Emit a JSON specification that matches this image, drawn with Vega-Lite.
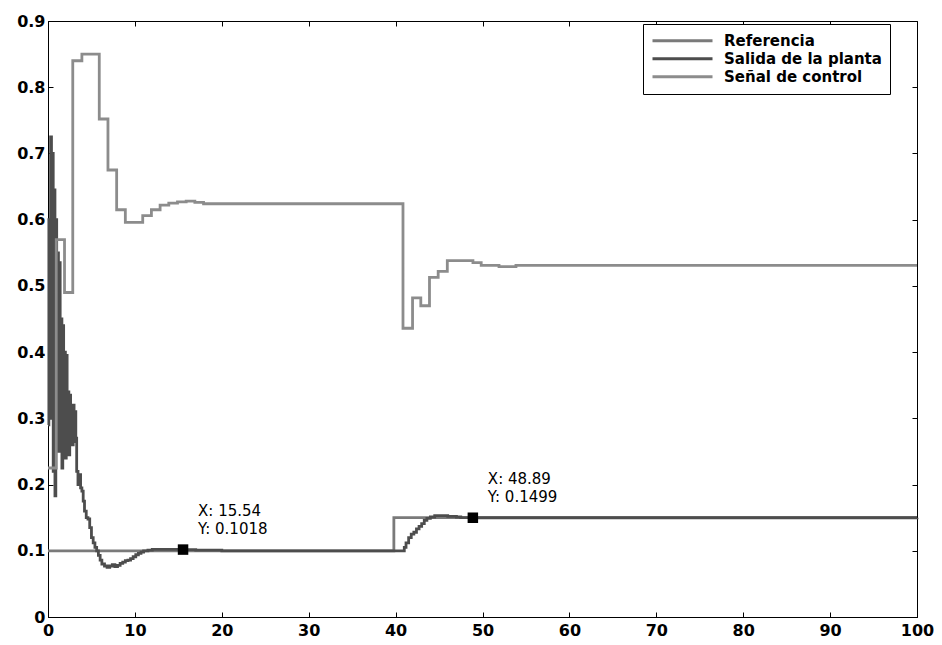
{
  "$schema": "https://vega.github.io/schema/vega-lite/v6.json",
  "width": 869,
  "height": 596,
  "autosize": {"type": "none"},
  "padding": {"left": 48, "top": 21, "right": 25, "bottom": 28},
  "background": "#ffffff",
  "config": {
    "view": {"stroke": "#000000", "strokeWidth": 1},
    "font": "DejaVu Sans"
  },
  "datasets": {
    "lines": [
      {"serie": "Referencia", "t": 0, "v": 0.1},
      {"serie": "Referencia", "t": 39.8, "v": 0.15},
      {"serie": "Referencia", "t": 100, "v": 0.15},

      {"serie": "Salida de la planta", "t": 0.0, "v": 0.29},
      {"serie": "Salida de la planta", "t": 0.1, "v": 0.6},
      {"serie": "Salida de la planta", "t": 0.2, "v": 0.32},
      {"serie": "Salida de la planta", "t": 0.3, "v": 0.725},
      {"serie": "Salida de la planta", "t": 0.4, "v": 0.3},
      {"serie": "Salida de la planta", "t": 0.5, "v": 0.7},
      {"serie": "Salida de la planta", "t": 0.6, "v": 0.22},
      {"serie": "Salida de la planta", "t": 0.7, "v": 0.645},
      {"serie": "Salida de la planta", "t": 0.8, "v": 0.183},
      {"serie": "Salida de la planta", "t": 0.9, "v": 0.6},
      {"serie": "Salida de la planta", "t": 1.0, "v": 0.33},
      {"serie": "Salida de la planta", "t": 1.1, "v": 0.55},
      {"serie": "Salida de la planta", "t": 1.2, "v": 0.25},
      {"serie": "Salida de la planta", "t": 1.3, "v": 0.535},
      {"serie": "Salida de la planta", "t": 1.4, "v": 0.3},
      {"serie": "Salida de la planta", "t": 1.5, "v": 0.45},
      {"serie": "Salida de la planta", "t": 1.6, "v": 0.225},
      {"serie": "Salida de la planta", "t": 1.7, "v": 0.44},
      {"serie": "Salida de la planta", "t": 1.8, "v": 0.27},
      {"serie": "Salida de la planta", "t": 1.9, "v": 0.4},
      {"serie": "Salida de la planta", "t": 2.0, "v": 0.24},
      {"serie": "Salida de la planta", "t": 2.1, "v": 0.395},
      {"serie": "Salida de la planta", "t": 2.2, "v": 0.27},
      {"serie": "Salida de la planta", "t": 2.3, "v": 0.34},
      {"serie": "Salida de la planta", "t": 2.4, "v": 0.245},
      {"serie": "Salida de la planta", "t": 2.5, "v": 0.335},
      {"serie": "Salida de la planta", "t": 2.6, "v": 0.26},
      {"serie": "Salida de la planta", "t": 2.7, "v": 0.3},
      {"serie": "Salida de la planta", "t": 2.8, "v": 0.26},
      {"serie": "Salida de la planta", "t": 2.9, "v": 0.32},
      {"serie": "Salida de la planta", "t": 3.0, "v": 0.265},
      {"serie": "Salida de la planta", "t": 3.1, "v": 0.31},
      {"serie": "Salida de la planta", "t": 3.2, "v": 0.27},
      {"serie": "Salida de la planta", "t": 3.3, "v": 0.22},
      {"serie": "Salida de la planta", "t": 3.45, "v": 0.2},
      {"serie": "Salida de la planta", "t": 3.6, "v": 0.215},
      {"serie": "Salida de la planta", "t": 3.75, "v": 0.195},
      {"serie": "Salida de la planta", "t": 3.9, "v": 0.19},
      {"serie": "Salida de la planta", "t": 4.05, "v": 0.175},
      {"serie": "Salida de la planta", "t": 4.2, "v": 0.16},
      {"serie": "Salida de la planta", "t": 4.4, "v": 0.15},
      {"serie": "Salida de la planta", "t": 4.6, "v": 0.148},
      {"serie": "Salida de la planta", "t": 4.8, "v": 0.135},
      {"serie": "Salida de la planta", "t": 5.0, "v": 0.12},
      {"serie": "Salida de la planta", "t": 5.2, "v": 0.112},
      {"serie": "Salida de la planta", "t": 5.4, "v": 0.105},
      {"serie": "Salida de la planta", "t": 5.6, "v": 0.1},
      {"serie": "Salida de la planta", "t": 5.8, "v": 0.093},
      {"serie": "Salida de la planta", "t": 6.0, "v": 0.086},
      {"serie": "Salida de la planta", "t": 6.2, "v": 0.08},
      {"serie": "Salida de la planta", "t": 6.5, "v": 0.077},
      {"serie": "Salida de la planta", "t": 6.8, "v": 0.075},
      {"serie": "Salida de la planta", "t": 7.1, "v": 0.077},
      {"serie": "Salida de la planta", "t": 7.4, "v": 0.079},
      {"serie": "Salida de la planta", "t": 7.7, "v": 0.076},
      {"serie": "Salida de la planta", "t": 8.0, "v": 0.078},
      {"serie": "Salida de la planta", "t": 8.3, "v": 0.081},
      {"serie": "Salida de la planta", "t": 8.6, "v": 0.083},
      {"serie": "Salida de la planta", "t": 8.9, "v": 0.085},
      {"serie": "Salida de la planta", "t": 9.2, "v": 0.086},
      {"serie": "Salida de la planta", "t": 9.5, "v": 0.088},
      {"serie": "Salida de la planta", "t": 9.8, "v": 0.091},
      {"serie": "Salida de la planta", "t": 10.1, "v": 0.094},
      {"serie": "Salida de la planta", "t": 10.4, "v": 0.096},
      {"serie": "Salida de la planta", "t": 10.7, "v": 0.098},
      {"serie": "Salida de la planta", "t": 11.0, "v": 0.1},
      {"serie": "Salida de la planta", "t": 11.5, "v": 0.101},
      {"serie": "Salida de la planta", "t": 12.0, "v": 0.102},
      {"serie": "Salida de la planta", "t": 14.0, "v": 0.102},
      {"serie": "Salida de la planta", "t": 15.54, "v": 0.1018},
      {"serie": "Salida de la planta", "t": 17.0, "v": 0.101},
      {"serie": "Salida de la planta", "t": 20.0, "v": 0.1},
      {"serie": "Salida de la planta", "t": 40.8, "v": 0.1},
      {"serie": "Salida de la planta", "t": 41.0, "v": 0.105},
      {"serie": "Salida de la planta", "t": 41.2, "v": 0.112},
      {"serie": "Salida de la planta", "t": 41.5, "v": 0.12},
      {"serie": "Salida de la planta", "t": 41.8, "v": 0.125},
      {"serie": "Salida de la planta", "t": 42.1, "v": 0.128},
      {"serie": "Salida de la planta", "t": 42.4, "v": 0.133},
      {"serie": "Salida de la planta", "t": 42.7, "v": 0.137},
      {"serie": "Salida de la planta", "t": 43.0, "v": 0.141},
      {"serie": "Salida de la planta", "t": 43.3, "v": 0.146},
      {"serie": "Salida de la planta", "t": 43.6, "v": 0.149},
      {"serie": "Salida de la planta", "t": 44.0, "v": 0.151},
      {"serie": "Salida de la planta", "t": 44.5, "v": 0.153},
      {"serie": "Salida de la planta", "t": 45.0, "v": 0.153},
      {"serie": "Salida de la planta", "t": 45.5, "v": 0.153},
      {"serie": "Salida de la planta", "t": 46.0, "v": 0.152},
      {"serie": "Salida de la planta", "t": 46.5, "v": 0.152},
      {"serie": "Salida de la planta", "t": 47.0, "v": 0.151},
      {"serie": "Salida de la planta", "t": 47.5, "v": 0.15},
      {"serie": "Salida de la planta", "t": 48.89, "v": 0.1499},
      {"serie": "Salida de la planta", "t": 100, "v": 0.15},

      {"serie": "Señal de control", "t": 0, "v": 0.225},
      {"serie": "Señal de control", "t": 0.95, "v": 0.57},
      {"serie": "Señal de control", "t": 1.9, "v": 0.49},
      {"serie": "Señal de control", "t": 2.85, "v": 0.84},
      {"serie": "Señal de control", "t": 3.9, "v": 0.85},
      {"serie": "Señal de control", "t": 5.9, "v": 0.752},
      {"serie": "Señal de control", "t": 6.9, "v": 0.675},
      {"serie": "Señal de control", "t": 7.9, "v": 0.615},
      {"serie": "Señal de control", "t": 8.9, "v": 0.596},
      {"serie": "Señal de control", "t": 10.9, "v": 0.606},
      {"serie": "Señal de control", "t": 11.9, "v": 0.615},
      {"serie": "Señal de control", "t": 12.9, "v": 0.622},
      {"serie": "Señal de control", "t": 13.9, "v": 0.625},
      {"serie": "Señal de control", "t": 14.9, "v": 0.627},
      {"serie": "Señal de control", "t": 15.9, "v": 0.628},
      {"serie": "Señal de control", "t": 16.9, "v": 0.626},
      {"serie": "Señal de control", "t": 17.9, "v": 0.624},
      {"serie": "Señal de control", "t": 40.85, "v": 0.436},
      {"serie": "Señal de control", "t": 41.95, "v": 0.482},
      {"serie": "Señal de control", "t": 42.9, "v": 0.47},
      {"serie": "Señal de control", "t": 43.9, "v": 0.513},
      {"serie": "Señal de control", "t": 44.9, "v": 0.522},
      {"serie": "Señal de control", "t": 45.95, "v": 0.538},
      {"serie": "Señal de control", "t": 48.9, "v": 0.535},
      {"serie": "Señal de control", "t": 49.85, "v": 0.531},
      {"serie": "Señal de control", "t": 51.9, "v": 0.529},
      {"serie": "Señal de control", "t": 53.85, "v": 0.531},
      {"serie": "Señal de control", "t": 100, "v": 0.531}
    ],
    "tips": [
      {"t": 15.54, "v": 0.1018, "lx": "X: 15.54", "ly": "Y: 0.1018"},
      {"t": 48.89, "v": 0.1499, "lx": "X: 48.89", "ly": "Y: 0.1499"}
    ]
  },
  "resolve": {"axis": {"x": "independent", "y": "independent"}},
  "layer": [
    {
      "data": {"name": "lines"},
      "mark": {"type": "line", "interpolate": "step-after", "strokeWidth": 2.8},
      "encoding": {
        "x": {
          "field": "t", "type": "quantitative",
          "scale": {"domain": [0, 100], "nice": false, "zero": false},
          "axis": {
            "orient": "bottom", "title": null, "grid": false,
            "values": [0, 10, 20, 30, 40, 50, 60, 70, 80, 90, 100],
            "tickSize": -5, "tickColor": "#000000", "domainColor": "#000000",
            "labelFont": "DejaVu Sans", "labelFontWeight": "bold", "labelFontSize": 16,
            "labelColor": "#000000", "labelPadding": 10, "labelFlush": false
          }
        },
        "y": {
          "field": "v", "type": "quantitative",
          "scale": {"domain": [0, 0.9], "nice": false, "zero": false},
          "axis": {
            "orient": "left", "title": null, "grid": false,
            "values": [0, 0.1, 0.2, 0.3, 0.4, 0.5, 0.6, 0.7, 0.8, 0.9],
            "labelExpr": "datum.value == 0 ? '0' : format(datum.value, '.1f')",
            "tickSize": -5, "tickColor": "#000000", "domainColor": "#000000",
            "labelFont": "DejaVu Sans", "labelFontWeight": "bold", "labelFontSize": 16,
            "labelColor": "#000000", "labelPadding": 8, "labelFlush": false
          }
        },
        "color": {
          "field": "serie", "type": "nominal",
          "scale": {
            "domain": ["Referencia", "Salida de la planta", "Señal de control"],
            "range": ["#7a7a7a", "#4d4d4d", "#8c8c8c"]
          },
          "legend": {
            "orient": "none", "legendX": 595, "legendY": 3, "title": null,
            "symbolType": "stroke", "symbolSize": 3600, "symbolStrokeWidth": 2.8,
            "clipHeight": 17.5, "rowPadding": 0,
            "labelFont": "DejaVu Sans", "labelFontWeight": "bold", "labelFontSize": 15,
            "labelColor": "#000000", "labelOffset": 10, "labelLimit": 400,
            "padding": 8, "strokeColor": "#000000", "fillColor": "#ffffff", "cornerRadius": 0
          }
        }
      }
    },
    {
      "data": {"name": "tips"},
      "mark": {"type": "point", "shape": "square", "filled": true, "size": 110, "color": "#000000", "opacity": 1},
      "encoding": {
        "x": {
          "field": "t", "type": "quantitative",
          "axis": {"orient": "top", "labels": false, "title": null, "grid": false, "domain": false,
                   "values": [0, 10, 20, 30, 40, 50, 60, 70, 80, 90, 100], "tickSize": -5, "tickColor": "#000000"}
        },
        "y": {
          "field": "v", "type": "quantitative",
          "axis": {"orient": "right", "labels": false, "title": null, "grid": false, "domain": false,
                   "values": [0, 0.1, 0.2, 0.3, 0.4, 0.5, 0.6, 0.7, 0.8, 0.9], "tickSize": -5, "tickColor": "#000000"}
        }
      }
    },
    {
      "data": {"name": "tips"},
      "mark": {"type": "text", "align": "left", "baseline": "middle", "dx": 15, "dy": -39, "fontSize": 15, "font": "DejaVu Sans", "color": "#000000"},
      "encoding": {
        "x": {"field": "t", "type": "quantitative", "axis": null},
        "y": {"field": "v", "type": "quantitative", "axis": null},
        "text": {"field": "lx"}
      }
    },
    {
      "data": {"name": "tips"},
      "mark": {"type": "text", "align": "left", "baseline": "middle", "dx": 15, "dy": -21, "fontSize": 15, "font": "DejaVu Sans", "color": "#000000"},
      "encoding": {
        "x": {"field": "t", "type": "quantitative", "axis": null},
        "y": {"field": "v", "type": "quantitative", "axis": null},
        "text": {"field": "ly"}
      }
    }
  ]
}
